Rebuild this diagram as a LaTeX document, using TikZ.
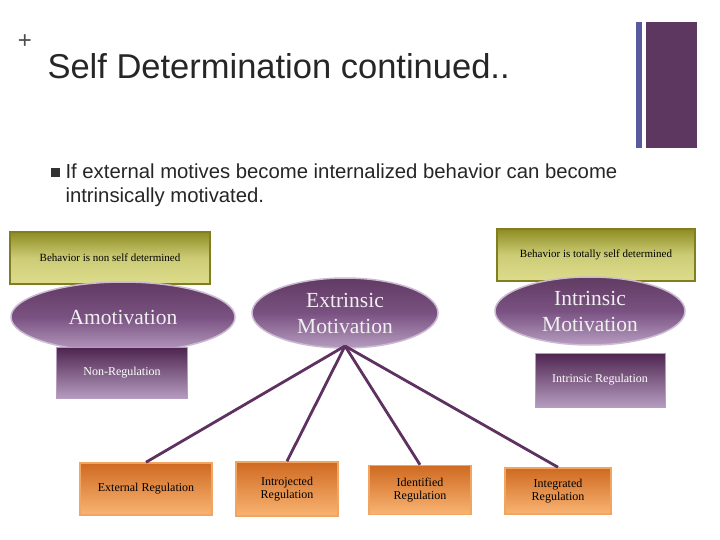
\documentclass[tikz,border=0pt]{standalone}
\usepackage{fontspec}
\setmainfont{Liberation Serif}
\newfontfamily\sans{Liberation Sans}
\usetikzlibrary{shapes.geometric}
\definecolor{pdark}{HTML}{4E2550}
\definecolor{pmid}{HTML}{7A5282}
\definecolor{plight}{HTML}{B69CC0}
\definecolor{odark}{HTML}{CF6A22}
\definecolor{olight}{HTML}{F9B472}
\definecolor{ydark}{HTML}{8E8C22}
\definecolor{ylight}{HTML}{DCDC8C}
\definecolor{conn}{HTML}{5E3160}
\begin{document}
\begin{tikzpicture}[x=1pt,y=-1pt,
 ybox/.style={draw=ydark!90!black,line width=1.5pt,top color=ydark,bottom color=ylight,middle color=ylight!80!ydark,font=\fontsize{11}{12}\selectfont},
 ell/.style={ellipse,draw=plight!70,line width=1.5pt,top color=pdark!90,bottom color=plight,middle color=pmid,text=white!88!gray,font=\fontsize{21.5}{26}\selectfont,align=center,inner sep=0pt},
 pbox/.style={draw=plight,line width=1pt,top color=pdark,bottom color=plight,text=white,font=\fontsize{12}{13}\selectfont},
 obox/.style={draw=olight!80!odark,line width=1.5pt,top color=odark,bottom color=olight,font=\fontsize{12}{13}\selectfont,align=center},
 link/.style={draw=conn,line width=2.8pt}]
\useasboundingbox (0,0) rectangle (720,540);
\fill[white] (0,0) rectangle (720,540);
\node[font=\sans\fontsize{24}{24}\selectfont,text=black!70] (plus) at (25,42) {+};
\node[anchor=west,font=\sans\fontsize{34.5}{34}\selectfont,text=black!85] (title) at (44,66) {Self Determination continued..};
\fill[black!10!blue!30!gray] (636,22) rectangle (642,148);
\fill[pdark!85!plight] (646,22) rectangle (697,148);
\fill[black!80] (51,168) rectangle (60,177);
\node[anchor=north west,font=\sans\fontsize{20.3}{24}\selectfont,align=left,text=black!85] (bul) at (62,160) {If external motives become internalized behavior can become\\intrinsically motivated.};
\node[ybox,minimum width=200,minimum height=52] (yl) at (110,258) {Behavior is non self determined};
\node[ybox,minimum width=198,minimum height=52] (yr) at (596,255) {Behavior is totally self determined};
\node[ell,minimum width=224,minimum height=70] (amo) at (123,317) {Amotivation};
\node[ell,minimum width=186,minimum height=70] (ext) at (345,313) {Extrinsic\\Motivation};
\node[ell,minimum width=190,minimum height=68] (intr) at (590,311) {Intrinsic\\Motivation};
\node[pbox,minimum width=131,minimum height=51] (nreg) at (122,373) {Non-Regulation};
\node[pbox,minimum width=130,minimum height=54] (ireg) at (600,380) {Intrinsic Regulation};
\node[obox,minimum width=132,minimum height=52] (er) at (146,489) {External Regulation};
\node[obox,minimum width=102,minimum height=54] (jr) at (287,489) {Introjected\\Regulation};
\node[obox,minimum width=102,minimum height=49] (dr) at (420,490) {Identified\\Regulation};
\node[obox,minimum width=106,minimum height=46] (gr) at (558,491) {Integrated\\Regulation};
\coordinate (hub) at (345,346);
\draw[link] (hub) -- (er.north);
\draw[link] (hub) -- (jr.north);
\draw[link] (hub) -- (dr.north);
\draw[link] (hub) -- (gr.north);
\end{tikzpicture}
\end{document}
